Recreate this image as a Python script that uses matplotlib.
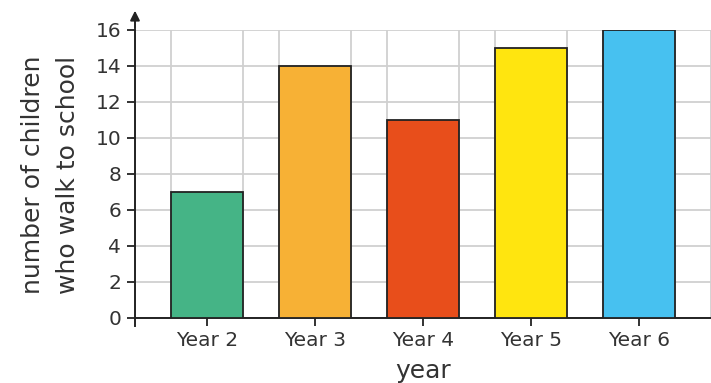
import matplotlib.pyplot as plt
import numpy as np

# data
years = ['Year 2', 'Year 3', 'Year 4', 'Year 5', 'Year 6']
children = [7, 14, 11, 15, 16]
colors = ['#45B486', '#F7B135', '#E84E1B', '#FFE50F', '#47C1F0']
yticks = [0, 2, 4, 6, 8, 10, 12, 14, 16]

txt = '#333333'
plt.rcParams['font.family'] = ['DejaVu Sans']

fig = plt.figure(figsize=(7.11, 3.83), dpi=100)
ax = fig.add_axes([135 / 711, (383 - 317.5) / 383, 1 - 135 / 711, (317.5 - 29.5) / 383])

x = np.arange(len(years))
ax.bar(x, children, width=2 / 3, color=colors, edgecolor='#222222', linewidth=1.3, zorder=3)

ax.set_xlim(-2 / 3, len(years) - 1 + 2 / 3)
ax.set_ylim(0, 16)

# grid: horizontal every 2, vertical every third of a category
ax.set_yticks(yticks)
ax.set_xticks(x)
ax.set_xticklabels(years)
ax.set_xticks(np.arange(-2 / 3, len(years) - 1 + 0.7, 1 / 3), minor=True)
ax.grid(True, which='minor', axis='x', color='#D0D0D0', linewidth=1.3, zorder=0)
ax.grid(True, which='major', axis='y', color='#D0D0D0', linewidth=1.3, zorder=0)
ax.tick_params(axis='x', which='minor', length=0)
ax.tick_params(axis='both', which='major', length=6, width=1.3, color='#222222',
               labelsize=14.5, labelcolor=txt, pad=4)
ax.set_axisbelow(True)

for s in ['top', 'right']:
    ax.spines[s].set_visible(False)
for s in ['left', 'bottom']:
    ax.spines[s].set_color('#222222')
    ax.spines[s].set_linewidth(1.4)

# arrow on y axis and small extension below origin
ax.annotate('', xy=(-2 / 3, 17.2), xytext=(-2 / 3, 15.9),
            arrowprops=dict(arrowstyle='-|>', color='#222222', lw=1.4, mutation_scale=14),
            annotation_clip=False)
ax.plot([-2 / 3, -2 / 3], [0, -0.45], color='#222222', lw=1.4, clip_on=False, zorder=4)

ax.set_xlabel('year', fontsize=18, color=txt, labelpad=6)
fig.text(33 / 711, 1 - 175 / 383, 'number of children', rotation=90, ha='center', va='center',
         fontsize=18, color=txt)
fig.text(68 / 711, 1 - 175 / 383, 'who walk to school', rotation=90, ha='center', va='center',
         fontsize=18, color=txt)

fig.savefig('out.png', dpi=100)
